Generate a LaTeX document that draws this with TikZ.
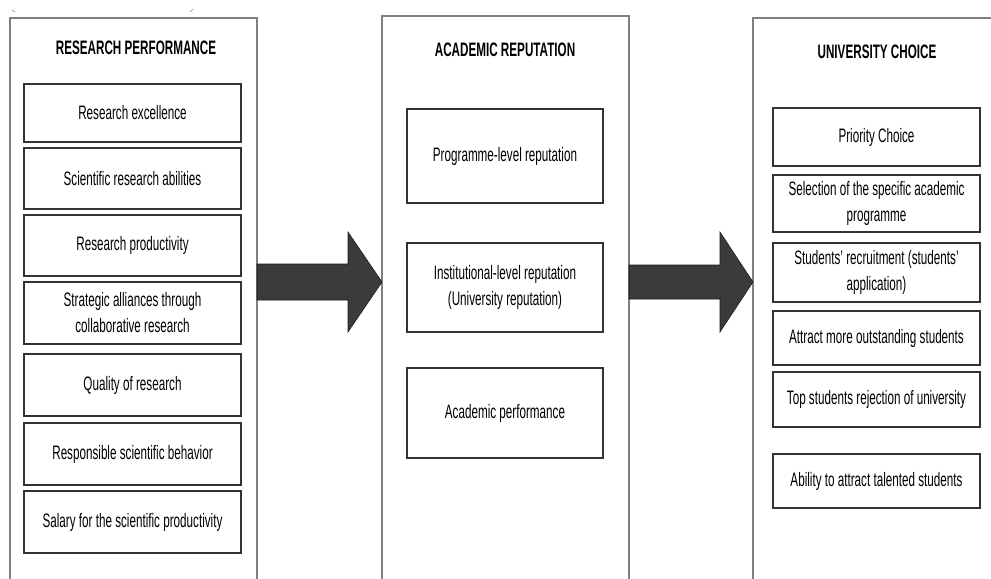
\documentclass[tikz,border=0pt]{standalone}
\usepackage{fontspec}
\setmainfont[FakeStretch=0.6]{Liberation Sans}
\newcommand\itemfont{\fontsize{14.6}{19.5}\selectfont}
\tikzset{
  panel/.style={draw=black!50, line width=1pt},
  itembox/.style={draw=black!80, line width=0.8pt, inner sep=0pt, align=center, font=\itemfont},
  ttl/.style={font=\itemfont\bfseries, inner sep=0pt},
  bigarrow/.style={fill=black!77, draw=black!90, line width=0.4pt},
  speck/.style={draw=black!45, line width=0.5pt},
}
% \ibox{name}{x1}{y1}{x2}{y2}{text}
\newcommand\ibox[6]{\node[itembox, minimum width={(#4-#2)*0.75pt}, minimum height={(#5-#3)*0.75pt}] (#1) at ({(#2+#4)/2},{(#3+#5)/2}) {#6};}
\begin{document}
\begin{tikzpicture}[x=0.75pt, y=-0.75pt]
\useasboundingbox (0,0) rectangle (991,578);
% tiny marks at the top
\draw[speck] (12,10) -- (15,12);
\draw[speck] (190,12) -- (193,9);
% panels
\draw[panel] (10,582) -- (10,18) -- (257,18) -- (257,582);
\draw[panel] (382,582) -- (382,16) -- (629,16) -- (629,582);
\draw[panel] (753,582) -- (753,18) -- (995,18);
% titles
\node[ttl] (t1) at (136,48) {RESEARCH PERFORMANCE};
\node[ttl] (t2) at (505,50) {ACADEMIC REPUTATION};
\node[ttl] (t3) at (877,52) {UNIVERSITY CHOICE};
% left column
\ibox{a1}{24}{84}{241}{142}{Research excellence}
\ibox{a2}{24}{148}{241}{209}{Scientific research abilities}
\ibox{a3}{24}{215}{241}{276}{Research productivity}
\ibox{a4}{24}{282}{241}{344}{Strategic alliances through\\collaborative research}
\ibox{a5}{24}{354}{241}{416}{Quality of research}
\ibox{a6}{24}{423}{241}{485}{Responsible scientific behavior}
\ibox{a7}{24}{491}{241}{553}{Salary for the scientific productivity}
% middle column
\ibox{b1}{407}{109}{603}{203}{Programme-level reputation}
\ibox{b2}{407}{243}{603}{332}{Institutional-level reputation\\(University reputation)}
\ibox{b3}{407}{368}{603}{458}{Academic performance}
% right column
\ibox{c1}{773}{108}{980}{166}{Priority Choice}
\ibox{c2}{773}{175}{980}{232}{Selection of the specific academic\\programme}
\ibox{c3}{773}{243}{980}{302}{Students' recruitment (students'\\application)}
\ibox{c4}{773}{311}{980}{365}{Attract more outstanding students}
\ibox{c5}{773}{372}{980}{427}{Top students rejection of university}
\ibox{c6}{773}{454}{980}{508}{Ability to attract talented students}
% block arrows
\filldraw[bigarrow] (257,264) -- (348,264) -- (348,232) -- (382,282) -- (348,332) -- (348,300) -- (257,300) -- cycle;
\filldraw[bigarrow] (629,265) -- (720,265) -- (720,232) -- (753,282) -- (720,332) -- (720,299) -- (629,299) -- cycle;
\end{tikzpicture}
\end{document}
